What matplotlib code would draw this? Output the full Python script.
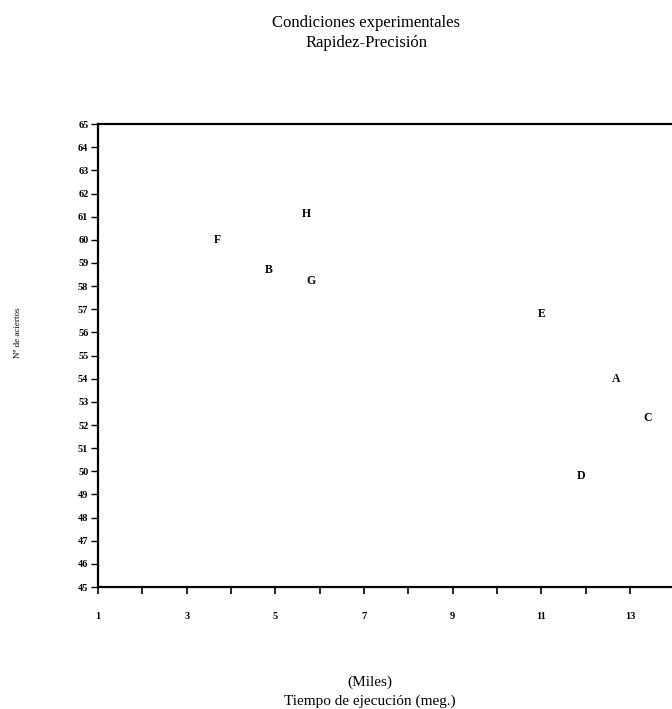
import matplotlib
matplotlib.use('Agg')
import matplotlib.pyplot as plt

# Condiciones experimentales: tiempo (miles de mseg.) y nº de aciertos
condiciones = ['A', 'B', 'C', 'D', 'E', 'F', 'G', 'H']
tiempo = [12.7, 4.85, 13.4, 11.9, 11.0, 3.7, 5.8, 5.7]
aciertos = [54.0, 58.7, 52.3, 49.8, 56.8, 60.0, 58.2, 61.1]

x_ticks = list(range(1, 14))
x_labels = [str(v) if v % 2 == 1 else '' for v in x_ticks]
y_ticks = list(range(45, 66))

plt.rcParams['font.family'] = ['Liberation Serif', 'DejaVu Serif']

fig = plt.figure(figsize=(6.72, 7.09), dpi=100, facecolor='white')
ax = fig.add_axes([0.146, 0.172, 0.854, 0.653])

# Letras de cada condición en su punto
for c, x, y in zip(condiciones, tiempo, aciertos):
    ax.text(x, y, c, ha='center', va='center', fontsize=8.5, fontweight='bold')

ax.set_xlim(1, 13.95)
ax.set_ylim(45, 65)
ax.set_xticks(x_ticks)
ax.set_xticklabels(x_labels, fontsize=7.5, fontweight='bold')
ax.set_yticks(y_ticks)
ax.set_yticklabels([str(v) for v in y_ticks], fontsize=7.5, fontweight='bold')
ax.tick_params(axis='x', direction='out', length=5, width=1.2, pad=13)
ax.tick_params(axis='y', direction='out', length=5, width=1.0, pad=2)

ax.spines['right'].set_visible(False)
for s in ['left', 'bottom', 'top']:
    ax.spines[s].set_linewidth(1.6)

# Títulos y etiquetas
fig.text(0.545, 0.968, 'Condiciones experimentales', ha='center', va='center', fontsize=12)
fig.text(0.545, 0.939, 'Rapidez-Precisión', ha='center', va='center', fontsize=12)
fig.text(0.550, 0.038, '(Miles)', ha='center', va='center', fontsize=11)
fig.text(0.550, 0.011, 'Tiempo de ejecución (meg.)', ha='center', va='center', fontsize=11)
fig.text(0.027, 0.53, 'Nº de aciertos', ha='center', va='center', rotation=90, fontsize=6.5)

fig.savefig('out.png', dpi=100, facecolor='white')
